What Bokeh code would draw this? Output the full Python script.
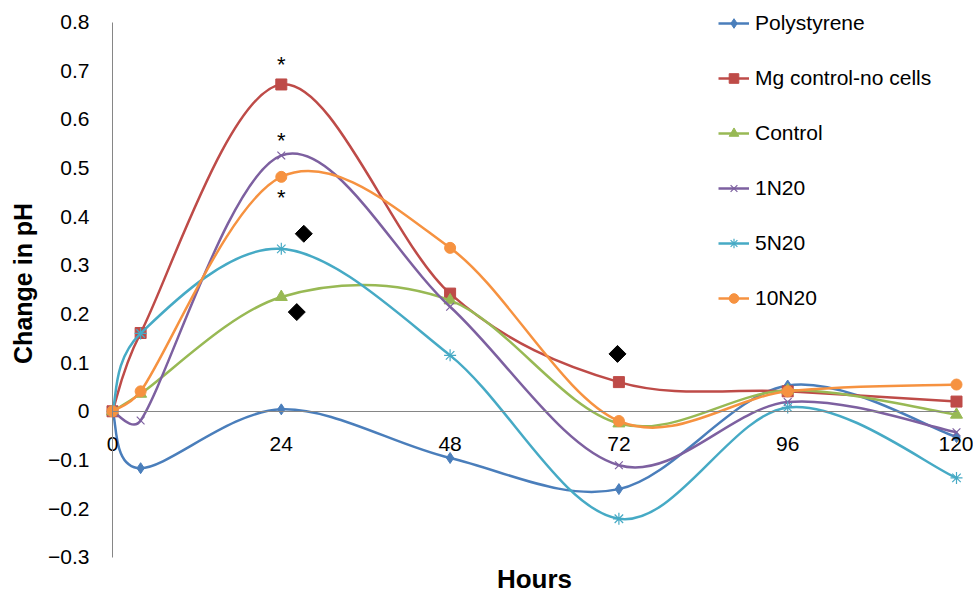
import math
import numpy as np
from bokeh.plotting import figure
from bokeh.models import (Range1d, FixedTicker, Legend, LegendItem, Label,
                          ColumnDataSource, CustomJSTickFormatter, LinearAxis)
from bokeh.core.properties import value
from bokeh.embed import file_html
from bokeh.resources import INLINE

# ---------------- data ----------------
hours = [0, 4, 24, 48, 72, 96, 120]
polystyrene = [0, -0.117, 0.004, -0.096, -0.160, 0.053, -0.053]
mg_control = [0, 0.161, 0.672, 0.242, 0.060, 0.041, 0.020]
control = [0, 0.036, 0.235, 0.228, -0.025, 0.043, -0.007]
n1n20 = [0, -0.019, 0.526, 0.215, -0.111, 0.019, -0.043]
n5n20 = [0, 0.160, 0.334, 0.115, -0.221, 0.008, -0.137]
n10n20 = [0, 0.041, 0.482, 0.336, -0.020, 0.041, 0.055]

series_names = ["Polystyrene", "Mg control-no cells", "Control", "1N20", "5N20", "10N20"]
series_values = [polystyrene, mg_control, control, n1n20, n5n20, n10n20]

star_x = [24, 24, 24]
star_y = [0.718, 0.561, 0.444]
diamond_x = [27.2, 26.2, 71.8]
diamond_y = [0.365, 0.204, 0.118]

x_ticks = [0, 24, 48, 72, 96, 120]
y_ticks = [-0.3, -0.2, -0.1, 0.0, 0.1, 0.2, 0.3, 0.4, 0.5, 0.6, 0.7, 0.8]
x_min, x_max = 0, 120
y_min, y_max = -0.3, 0.8

# ---------------- style / layout ----------------
colors = ["#4A7EBB", "#BE4B48", "#98B954", "#7D60A0", "#46AAC5", "#F69240"]
markers = ["diamond", "square", "triangle", "x", "asterisk", "circle"]
msizes = [11, 11, 12, 11, 12, 11]
FONT = "Liberation Sans"
AXIS_GRAY = "#868686"

W, H = 973, 595
# pixel position of the plot area (x = 0..120 h, y = -0.3..0.8) in the canvas
PX_LEFT, PX_RIGHT = 112.0, 956.0
PX_TOP, PX_BOTTOM = 21.7, 556.7
SX = (PX_RIGHT - PX_LEFT) / (x_max - x_min)
SY = (PX_BOTTOM - PX_TOP) / (y_max - y_min)
X_START = x_min - PX_LEFT / SX
X_END = x_max + (W - PX_RIGHT) / SX
Y_END = y_max + PX_TOP / SY
Y_START = y_min - (H - PX_BOTTOM) / SY


def smooth_segments(xs, ys):
    """Excel-like smoothed line: cubic Bezier segments (Catmull-Rom style,
    arms capped at half the segment length), computed in screen proportions."""
    P = [(x * SX, y * SY) for x, y in zip(xs, ys)]
    n = len(P)
    out = {k: [] for k in ["x0", "y0", "x1", "y1", "cx0", "cy0", "cx1", "cy1"]}
    for i in range(n - 1):
        p0 = P[max(i - 1, 0)]
        p1 = P[i]
        p2 = P[i + 1]
        p3 = P[min(i + 2, n - 1)]
        seg = math.hypot(p2[0] - p1[0], p2[1] - p1[1])
        a1 = [(p2[0] - p0[0]) / 6, (p2[1] - p0[1]) / 6]
        a2 = [(p3[0] - p1[0]) / 6, (p3[1] - p1[1]) / 6]
        for a in (a1, a2):
            L = math.hypot(a[0], a[1])
            if L > seg / 2 and L > 0:
                f = (seg / 2) / L
                a[0] *= f
                a[1] *= f
        c1 = (p1[0] + a1[0], p1[1] + a1[1])
        c2 = (p2[0] - a2[0], p2[1] - a2[1])
        out["x0"].append(p1[0] / SX); out["y0"].append(p1[1] / SY)
        out["x1"].append(p2[0] / SX); out["y1"].append(p2[1] / SY)
        out["cx0"].append(c1[0] / SX); out["cy0"].append(c1[1] / SY)
        out["cx1"].append(c2[0] / SX); out["cy1"].append(c2[1] / SY)
    return out


p = figure(width=W, height=H, x_range=Range1d(X_START, X_END),
           y_range=Range1d(Y_START, Y_END),
           x_axis_location=None, y_axis_location=None,
           output_backend="svg", toolbar_location=None,
           min_border_left=0, min_border_right=0, min_border_top=0,
           min_border_bottom=0, background_fill_color="white",
           border_fill_color="white")
p.outline_line_color = None

# y axis crossing at x = 0
ya = LinearAxis(fixed_location=0, bounds=(y_min, y_max),
                ticker=FixedTicker(ticks=y_ticks))
ya.formatter = CustomJSTickFormatter(code="""
    if (Math.abs(tick) < 1e-9) { return '0'; }
    return tick.toFixed(1).replace('-', '\\u2212');
""")
ya.axis_line_color = AXIS_GRAY
ya.axis_line_width = 1
ya.major_tick_line_color = None
ya.minor_tick_line_color = None
ya.major_tick_out = 0
ya.major_tick_in = 0
ya.minor_tick_out = 0
ya.minor_tick_in = 0
ya.major_label_standoff = 23
ya.major_label_text_font = FONT
ya.major_label_text_font_size = "21px"
ya.major_label_text_color = "black"
p.add_layout(ya, "left")

# x axis crossing at y = 0, labels sitting below
xa = LinearAxis(fixed_location=0, bounds=(x_min, x_max),
                ticker=FixedTicker(ticks=x_ticks))
xa.axis_line_color = AXIS_GRAY
xa.axis_line_width = 1
xa.major_tick_line_color = None
xa.minor_tick_line_color = None
xa.major_tick_out = 0
xa.major_tick_in = 0
xa.minor_tick_out = 0
xa.minor_tick_in = 0
xa.major_label_standoff = 26
xa.major_label_text_font = FONT
xa.major_label_text_font_size = "21px"
xa.major_label_text_color = "black"
p.add_layout(xa, "below")

p.grid.visible = False

items = []
for name, vals, col, mk, ms in zip(series_names, series_values, colors, markers, msizes):
    seg = smooth_segments(hours, vals)
    p.bezier(source=ColumnDataSource(seg), x0="x0", y0="y0", x1="x1", y1="y1",
             cx0="cx0", cy0="cy0", cx1="cx1", cy1="cy1",
             line_color=col, line_width=2.5)
    dummy = p.line(x=np.array([np.nan]), y=np.array([np.nan]), line_color=col, line_width=2.5)
    if mk in ("x", "asterisk"):
        sc = p.scatter(hours, vals, marker=mk, size=ms, line_color=col, line_width=1.2)
    else:
        sc = p.scatter(hours, vals, marker=mk, size=ms, fill_color=col, line_color=col)
    items.append(LegendItem(label=name, renderers=[dummy, sc]))

# significance markers
p.text(x=star_x, y=star_y, text=value("*"), text_align="center", text_baseline="middle",
       y_offset=2, text_font=value(FONT), text_font_size="22px", text_color="black")
p.scatter(diamond_x, diamond_y, marker="square", angle=math.pi / 4, size=12,
          fill_color="black", line_color="black")

legend = Legend(items=items, location=(718, 285), orientation="vertical",
                border_line_color=None, background_fill_alpha=0,
                padding=0, margin=0, spacing=31, glyph_width=31, glyph_height=24,
                label_height=24, label_standoff=6, label_text_font=FONT,
                label_text_font_size="21px", label_text_color="black")
p.add_layout(legend)

p.add_layout(Label(x=-12.73, y=0.263, text="Change in pH", angle=math.pi / 2,
                   text_align="center", text_baseline="middle", text_font=FONT,
                   text_font_size="25px", text_font_style="bold", text_color="black"))
p.add_layout(Label(x=60, y=-0.345, text="Hours", text_align="center",
                   text_baseline="middle", text_font=FONT, text_font_size="26px",
                   text_font_style="bold", text_color="black"))

open("out.html", "w").write(file_html(p, INLINE))
